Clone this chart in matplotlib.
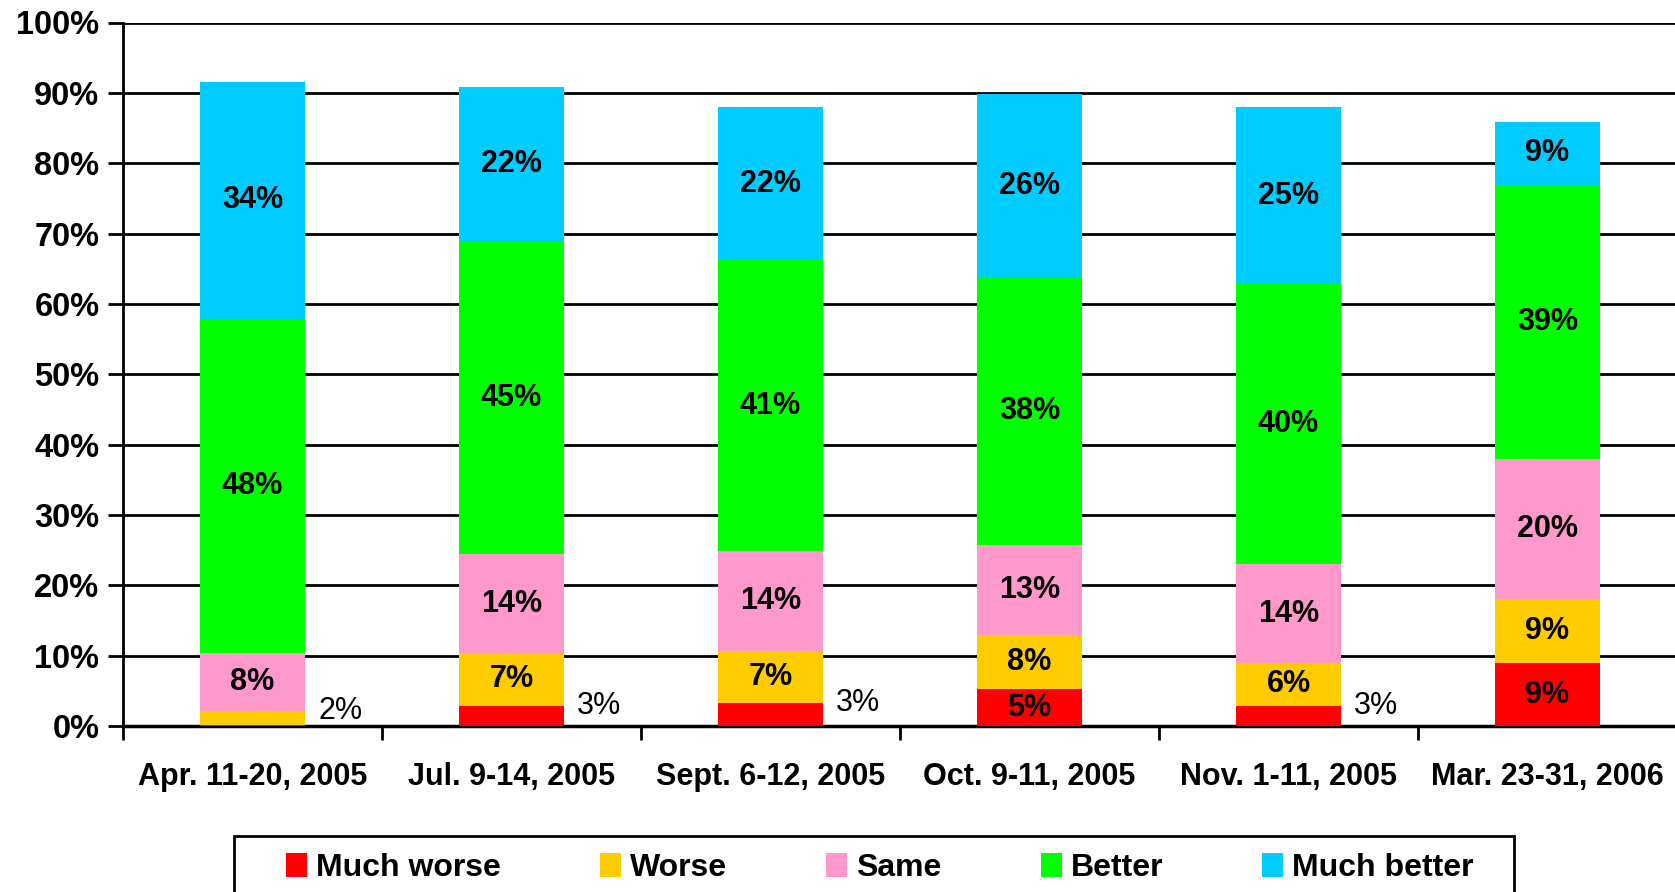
import numpy as np
import matplotlib
matplotlib.use('Agg')
import matplotlib.pyplot as plt
from matplotlib.patches import Rectangle

# survey periods
periods = ['Apr. 11-20, 2005', 'Jul. 9-14, 2005', 'Sept. 6-12, 2005',
           'Oct. 9-11, 2005', 'Nov. 1-11, 2005', 'Mar. 23-31, 2006']

# answers in %, bottom to top
much_worse = [0.2, 2.9, 3.2, 5.2, 2.9, 8.9]
worse = [2.0, 7.5, 7.4, 7.8, 6.0, 9.1]
same = [8.2, 14.0, 14.3, 12.7, 14.1, 20.0]
better = [47.4, 44.5, 41.3, 38.1, 39.8, 38.9]
much_better = [33.8, 22.0, 21.8, 26.0, 25.2, 9.0]

# printed labels (None = not shown)
lbl_much_worse = [None, '3%', '3%', '5%', '3%', '9%']
lbl_worse = ['2%', '7%', '7%', '8%', '6%', '9%']
lbl_same = ['8%', '14%', '14%', '13%', '14%', '20%']
lbl_better = ['48%', '45%', '41%', '38%', '40%', '39%']
lbl_much_better = ['34%', '22%', '22%', '26%', '25%', '9%']
outside = [(0, 1), (1, 0), (2, 0), (4, 0)]  # (bar, series) labelled beside the bar

names = ['Much worse', 'Worse', 'Same', 'Better', 'Much better']
colors = ['#FF0000', '#FFCC00', '#FF99CC', '#00FF00', '#00CCFF']

plt.rcParams['font.family'] = ['Liberation Sans', 'DejaVu Sans']

fs = 22

fig = plt.figure(figsize=(16.75, 8.92), dpi=100)
ax = fig.add_axes([123 / 1675, 166 / 892, 1554 / 1675, 703.5 / 892])

series = [much_worse, worse, same, better, much_better]
labels = [lbl_much_worse, lbl_worse, lbl_same, lbl_better, lbl_much_better]
x = np.arange(len(periods))
width = 0.407
bottom = np.zeros(len(periods))
for k, vals in enumerate(series):
    vals = np.array(vals, dtype=float)
    ax.bar(x, vals, width, bottom=bottom, color=colors[k], label=names[k],
           zorder=3, linewidth=0)
    for i in range(len(periods)):
        txt = labels[k][i]
        if txt is None:
            continue
        if (i, k) in outside:
            ax.text(x[i] + width / 2 + 0.05, bottom[i] + vals[i], txt,
                    ha='left', va='center', fontsize=fs, zorder=4)
        else:
            ax.text(x[i], bottom[i] + vals[i] / 2, txt, ha='center',
                    va='center', fontsize=fs, fontweight='bold', zorder=4)
    bottom += vals

ax.set_xlim(-0.5, len(periods) - 0.5)
ax.set_ylim(0, 100)
ax.set_yticks(np.arange(0, 101, 10))
ax.set_yticklabels([f'{v}%' for v in range(0, 101, 10)], fontsize=23.5,
                   fontweight='bold')
ax.yaxis.grid(True, color='black', linewidth=2, zorder=0)
ax.set_axisbelow(True)

# category labels centred, ticks at the slot boundaries
ax.set_xticks(x)
ax.set_xticklabels(periods, fontsize=fs, fontweight='bold')
ax.tick_params(axis='x', length=0, pad=26)
ax.set_xticks(np.arange(len(periods) + 1) - 0.5, minor=True)
ax.tick_params(axis='x', which='minor', length=10, width=2, direction='out')
ax.tick_params(axis='y', length=11, width=2, pad=6)

for s in ['top', 'right']:
    ax.spines[s].set_visible(False)
ax.spines['left'].set_linewidth(2)
ax.spines['bottom'].set_linewidth(2.5)

# legend box runs off the bottom edge of the picture
fig.patches.append(Rectangle((234 / 1675, -0.05), (1514 - 234) / 1675,
                             1 - 836 / 892 + 0.05, transform=fig.transFigure,
                             facecolor='white', edgecolor='black',
                             linewidth=2, zorder=1))
leg = fig.legend(loc='upper left', bbox_to_anchor=(286 / 1675, 1 - 853 / 892),
                 ncol=5, frameon=False, borderpad=0, borderaxespad=0,
                 handlelength=0.66, handleheight=0.75, handletextpad=0.28,
                 columnspacing=3.1, prop={'weight': 'bold', 'size': 23})
leg.set_zorder(2)

fig.savefig('out.png', dpi=100)
